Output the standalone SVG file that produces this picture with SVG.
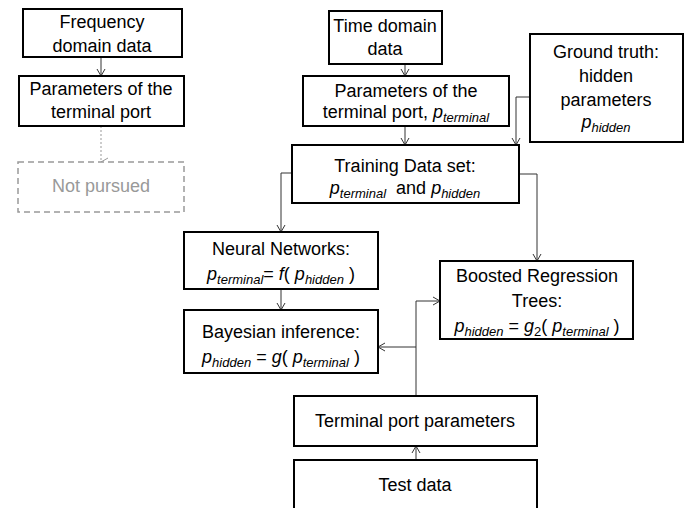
<svg xmlns="http://www.w3.org/2000/svg" width="694" height="508" viewBox="0 0 694 508">
<style>
.box{fill:#fff;stroke:#000;stroke-width:2}
.dbox{fill:#fff;stroke:#999;stroke-width:1.5;stroke-dasharray:6,4}
text{font-family:"Liberation Sans",Arial,sans-serif;font-size:18px;fill:#000;text-anchor:middle}
.gray{fill:#999}
.i{font-style:italic}
.sub{font-size:13px;font-style:italic}
.sn{font-size:13px}
.c{fill:none;stroke:#333;stroke-width:1}
.cd{fill:none;stroke:#999;stroke-width:1;stroke-dasharray:2,2}
</style>
<defs>
<marker id="ag" markerWidth="10" markerHeight="10" refX="5" refY="8" markerUnits="userSpaceOnUse" viewBox="0 0 10 10" orient="auto">
<path d="M1,1 L5,8 L9,1" fill="none" stroke="#999" stroke-width="1"/>
</marker>
<marker id="ar" markerWidth="10" markerHeight="10" refX="8" refY="5" markerUnits="userSpaceOnUse" viewBox="0 0 10 10" orient="0">
<path d="M1,1 L8,5 L1,9" fill="none" stroke="#333" stroke-width="1"/>
</marker>
<marker id="al" markerWidth="10" markerHeight="10" refX="2" refY="5" markerUnits="userSpaceOnUse" viewBox="0 0 10 10" orient="0">
<path d="M9,1 L2,5 L9,9" fill="none" stroke="#333" stroke-width="1"/>
</marker>
<marker id="au" markerWidth="10" markerHeight="10" refX="5" refY="2" markerUnits="userSpaceOnUse" viewBox="0 0 10 10" orient="0">
<path d="M1,9 L5,2 L9,9" fill="none" stroke="#333" stroke-width="1"/>
</marker>
<marker id="ad" markerWidth="10" markerHeight="10" refX="5" refY="8" markerUnits="userSpaceOnUse" viewBox="0 0 10 10" orient="0">
<path d="M1,1 L5,8 L9,1" fill="none" stroke="#333" stroke-width="1"/>
</marker>
</defs>

<g id="connectors">
<path class="c" d="M101,57 V76" marker-end="url(#ad)"/>
<path class="cd" d="M101,126 V162" marker-end="url(#ag)"/>
<path class="c" d="M405,64 V76" marker-end="url(#ad)"/>
<path class="c" d="M405,126 V145" marker-end="url(#ad)"/>
<path class="c" d="M530,97 H516 V145" marker-end="url(#ad)"/>
<path class="c" d="M292,173 H281 V232" marker-end="url(#ad)"/>
<path class="c" d="M519,174 H537 V261" marker-end="url(#ad)"/>
<path class="c" d="M281,289 V310" marker-end="url(#ad)"/>
<path class="c" d="M416,396 V301 H440" marker-end="url(#ar)"/>
<path class="c" d="M416,347 H378" marker-end="url(#al)"/>
<path class="c" d="M416,460 V446" marker-end="url(#au)"/>
</g>

<g id="freq">
<rect class="box" x="23" y="9" width="159" height="48"/>
<text x="102" y="28">Frequency</text>
<text x="102" y="52">domain data</text>
</g>

<g id="params-freq">
<rect class="box" x="19" y="76" width="165" height="50"/>
<text x="101" y="95">Parameters of the</text>
<text x="101" y="118">terminal port</text>
</g>

<g id="not-pursued">
<rect class="dbox" x="18" y="162" width="166" height="50"/>
<text class="gray" x="101" y="192">Not pursued</text>
</g>

<g id="time">
<rect class="box" x="329" y="11" width="113" height="53"/>
<text x="385" y="32">Time domain</text>
<text x="385" y="55">data</text>
</g>

<g id="params-time">
<rect class="box" x="303" y="76" width="206" height="50"/>
<text x="406" y="97">Parameters of the</text>
<text x="406" y="118">terminal port, <tspan class="i">p</tspan><tspan class="sub" dy="4">terminal</tspan></text>
</g>

<g id="ground-truth">
<rect class="box" x="530" y="34" width="153" height="108"/>
<text x="606" y="58">Ground truth:</text>
<text x="606" y="82">hidden</text>
<text x="606" y="106">parameters</text>
<text x="606" y="128"><tspan class="i">p</tspan><tspan class="sub" dy="4">hidden</tspan></text>
</g>

<g id="training">
<rect class="box" x="292" y="145" width="227" height="58"/>
<text x="405" y="172">Training Data set:</text>
<text x="405" y="194" xml:space="preserve"><tspan class="i">p</tspan><tspan class="sub" dy="4">terminal</tspan><tspan dy="-4">  and </tspan><tspan class="i">p</tspan><tspan class="sub" dy="4">hidden</tspan></text>
</g>

<g id="neural">
<rect class="box" x="184" y="232" width="194" height="57"/>
<text x="281" y="255">Neural Networks:</text>
<text x="281" y="280" xml:space="preserve"><tspan class="i">p</tspan><tspan class="sub" dy="4">terminal</tspan><tspan dy="-4">= </tspan><tspan class="i">f</tspan><tspan>( </tspan><tspan class="i">p</tspan><tspan class="sub" dy="4">hidden</tspan><tspan dy="-4"> )</tspan></text>
</g>

<g id="bayes">
<rect class="box" x="184" y="310" width="194" height="63"/>
<text x="281" y="338">Bayesian inference:</text>
<text x="281" y="363" xml:space="preserve"><tspan class="i">p</tspan><tspan class="sub" dy="4">hidden</tspan><tspan dy="-4"> = </tspan><tspan class="i">g</tspan><tspan>( </tspan><tspan class="i">p</tspan><tspan class="sub" dy="4">terminal</tspan><tspan dy="-4"> )</tspan></text>
</g>

<g id="boosted">
<rect class="box" x="440" y="261" width="193" height="78"/>
<text x="537" y="282">Boosted Regression</text>
<text x="537" y="307">Trees:</text>
<text x="537" y="332" xml:space="preserve"><tspan class="i">p</tspan><tspan class="sub" dy="4">hidden</tspan><tspan dy="-4"> = </tspan><tspan class="i">g</tspan><tspan class="sn" dy="4">2</tspan><tspan dy="-4">( </tspan><tspan class="i">p</tspan><tspan class="sub" dy="4">terminal</tspan><tspan dy="-4"> )</tspan></text>
</g>

<g id="terminal-port">
<rect class="box" x="294" y="396" width="243" height="50"/>
<text x="415" y="427">Terminal port parameters</text>
</g>

<g id="test-data">
<rect class="box" x="294" y="460" width="243" height="60"/>
<text x="415" y="491">Test data</text>
</g>
</svg>
